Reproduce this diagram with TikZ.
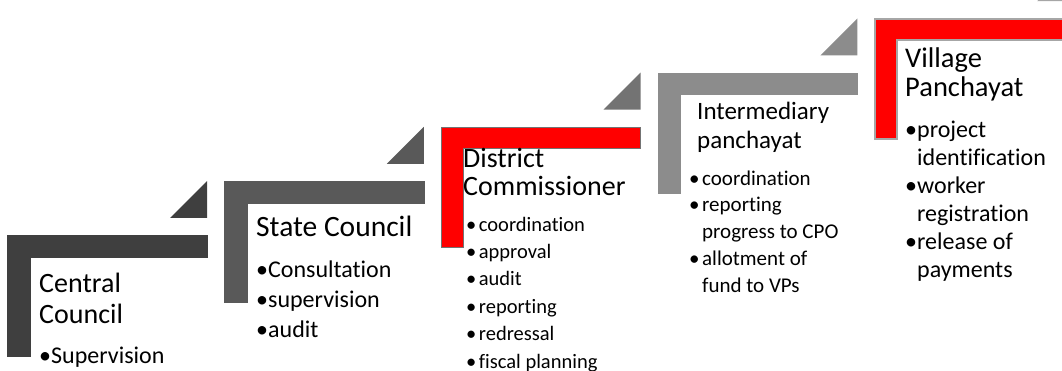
\documentclass[tikz,border=0pt]{standalone}
\usepackage{fontspec}
\setmainfont{Carlito}[Ligatures=NoCommon]
\usetikzlibrary{positioning}

\definecolor{greyA}{HTML}{3F3F3F}
\definecolor{greyB}{HTML}{595959}
\definecolor{greyC}{HTML}{737373}
\definecolor{greyD}{HTML}{8C8C8C}
\definecolor{greyE}{HTML}{A6A6A6}

\newcommand\bul{\textbullet}
\newcommand\bull{\textbullet\hspace{2.5pt}}

% nodes are placed at the baseline of their last line
\tikzset{
  title/.style={anchor=base west, inner sep=0pt, align=left,
    font=\fontsize{28}{29}\selectfont},
  items/.style={anchor=base west, inner sep=0pt, align=left,
    font=\fontsize{24}{30}\selectfont},
  smallitems/.style={items, font=\fontsize{20.5}{27.4}\selectfont},
}

\begin{document}
\begin{tikzpicture}[x=1pt, y=-1pt]
  \useasboundingbox (0,0) rectangle (1062,371);
  \clip (0,0) rectangle (1062,371);
  % the five steps: corner bar plus small triangle
  \foreach \i/\fillc/\linec in {0/greyA/greyA, 1/greyB/greyB, 2/red/greyC, 3/greyD/greyD, 4/red/greyE}{
    \begin{scope}[shift={(8+216.8*\i, 236-54.2*\i)}]
      \fill[\linec] (162,-18) -- (199,-18) -- (199,-55) -- cycle;
      \filldraw[fill=\fillc, draw=\linec, line width=1.5pt]
        (0,0) -- (199,0) -- (199,21) -- (22,21) -- (22,120) -- (0,120) -- cycle;
    \end{scope}
  }

  \node[title, font=\fontsize{28}{31}\selectfont] (t1) at (39,323) {Central\\Council};
  \node[items] (l1) at (39,363) {\bul Supervision};

  \node[title, font=\fontsize{29.5}{30}\selectfont] (t2) at (256,237) {State Council};
  \node[items] (l2) at (256,337) {\bul Consultation\\\bul supervision\\\bul audit};

  \node[title, font=\fontsize{28}{28}\selectfont] (t3) at (463,196) {District\\Commissioner};
  \node[smallitems] (l3) at (466,368) {\bull coordination\\\bull approval\\\bull audit\\
    \bull reporting\\\bull redressal\\\bull fiscal planning};

  \node[title, font=\fontsize{25}{29}\selectfont] (t4) at (697,149) {Intermediary\\panchayat};
  \node[smallitems, font=\fontsize{21}{26.75}\selectfont] (l4) at (689,292)
    {\bull coordination\\\bull reporting\\\hphantom{\bull}progress to CPO\\
    \bull allotment of\\\hphantom{\bull}fund to VPs};

  \node[title, font=\fontsize{28.5}{29}\selectfont] (t5) at (905,97) {Village\\Panchayat};
  \node[items, font=\fontsize{24}{27.8}\selectfont] (l5) at (905,277)
    {\bul project\\\hphantom{\bul}identification\\\bul worker\\
    \hphantom{\bul}registration\\\bul release of\\\hphantom{\bul}payments};
\end{tikzpicture}
\end{document}
